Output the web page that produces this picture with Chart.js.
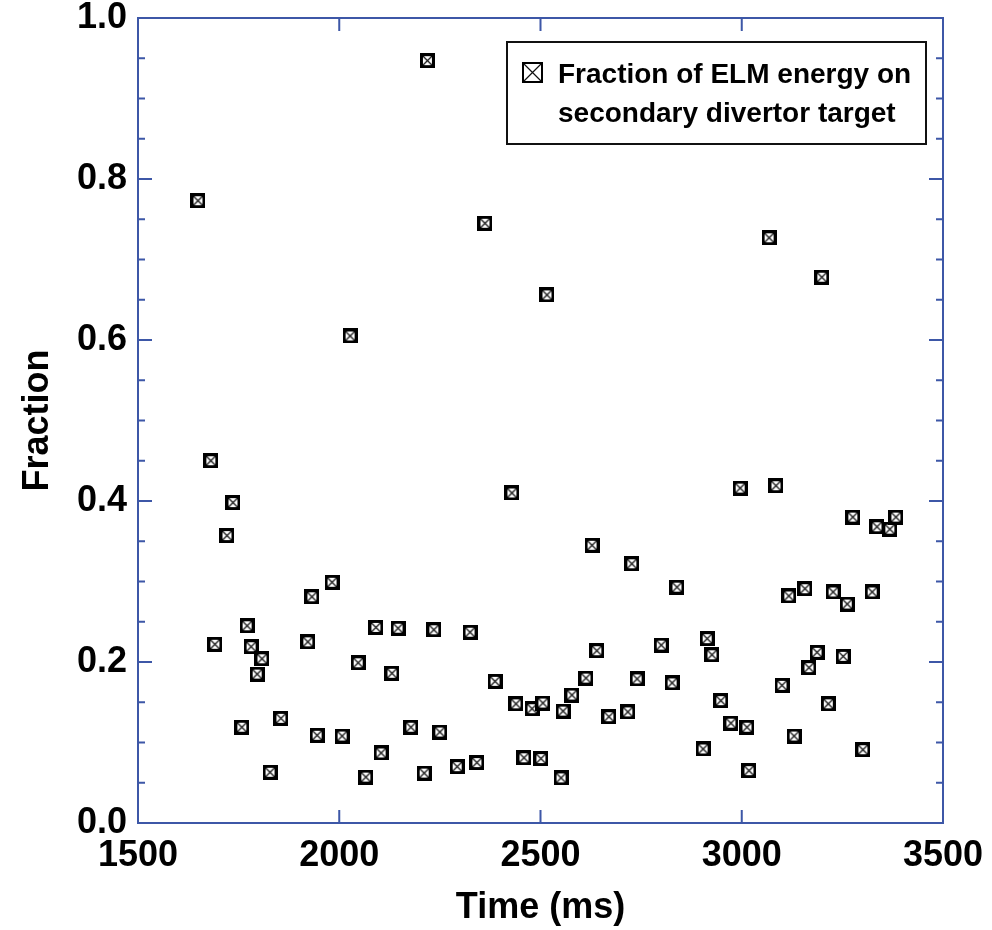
<!DOCTYPE html>
<html>
<head>
<meta charset="utf-8">
<script src="https://cdn.jsdelivr.net/npm/chart.js@4/dist/chart.umd.min.js"></script>
<style>
  html, body { margin: 0; padding: 0; background: #fff; }
  canvas { display: block; }
</style>
</head>
<body>
<canvas id="grafico" width="992" height="930"></canvas>
<script>
// Datos
const tiempos = [
  1649, 1681, 1691, 1721, 1736, 1758, 1771, 1781, 1796, 1808,
  1828, 1855, 1922, 1932, 1945, 1982, 2007, 2027, 2047, 2066,
  2091, 2104, 2131, 2146, 2178, 2211, 2219, 2235, 2250, 2293,
  2325, 2342, 2362, 2387, 2429, 2439, 2459, 2479, 2501, 2506,
  2516, 2551, 2556, 2578, 2613, 2628, 2640, 2670, 2717, 2727,
  2740, 2800, 2827, 2839, 2904, 2914, 2926, 2948, 2973, 2996,
  3013, 3018, 3068, 3085, 3100, 3117, 3130, 3157, 3167, 3187,
  3199, 3215, 3227, 3252, 3262, 3276, 3301, 3324, 3336, 3368,
  3383
];
const fracciones = [
  0.773, 0.450, 0.222, 0.357, 0.398, 0.119, 0.245, 0.219, 0.185, 0.204,
  0.063, 0.130, 0.225, 0.281, 0.109, 0.299, 0.108, 0.605, 0.199, 0.057,
  0.243, 0.087, 0.186, 0.242, 0.119, 0.062, 0.947, 0.240, 0.113, 0.070,
  0.237, 0.075, 0.745, 0.176, 0.410, 0.148, 0.081, 0.142, 0.080, 0.149,
  0.656, 0.056, 0.139, 0.159, 0.180, 0.345, 0.214, 0.132, 0.138, 0.322,
  0.179, 0.221, 0.174, 0.293, 0.092, 0.229, 0.209, 0.152, 0.124, 0.416,
  0.119, 0.065, 0.727, 0.419, 0.171, 0.282, 0.108, 0.291, 0.193, 0.212,
  0.678, 0.148, 0.287, 0.207, 0.272, 0.380, 0.091, 0.287, 0.368, 0.365,
  0.380
];
const ticksX = [1500, 2000, 2500, 3000, 3500];
const ticksY = [0, 0.2, 0.4, 0.6, 0.8, 1.0];
const etiquetaSerie = ["Fraction of ELM energy on", "secondary divertor target"];

const azul = "#3d57a7";
const fuente = "'Liberation Sans', Arial, sans-serif";

// Marca cuadrada con una X dentro
function crearMarca(tam, grosor) {
  const c = document.createElement("canvas");
  c.width = tam;
  c.height = tam;
  const g = c.getContext("2d");
  g.fillStyle = "#fff";
  g.fillRect(0, 0, tam, tam);
  g.strokeStyle = "#111";
  g.lineWidth = 1.2;
  g.beginPath();
  g.moveTo(grosor, grosor);
  g.lineTo(tam - grosor, tam - grosor);
  g.moveTo(tam - grosor, grosor);
  g.lineTo(grosor, tam - grosor);
  g.stroke();
  g.strokeStyle = "#000";
  g.lineWidth = grosor;
  g.strokeRect(grosor / 2, grosor / 2, tam - grosor, tam - grosor);
  return c;
}
const marcaPunto = crearMarca(15, 3);
const marcaLeyenda = crearMarca(21, 2);

// Marco azul y marcas hacia dentro
const marco = {
  id: "marco",
  afterDatasetsDraw(chart) {
    const { ctx, chartArea: a, scales: { x, y } } = chart;
    ctx.save();
    ctx.strokeStyle = azul;
    ctx.lineWidth = 2;
    ctx.strokeRect(a.left, a.top, a.right - a.left, a.bottom - a.top);
    ctx.beginPath();
    for (let i = 0; i <= 20; i++) {
      const py = y.getPixelForValue(i * 0.05);
      const largo = i % 4 === 0 ? 14 : 7;
      ctx.moveTo(a.left, py); ctx.lineTo(a.left + largo, py);
      ctx.moveTo(a.right, py); ctx.lineTo(a.right - largo, py);
    }
    ticksX.slice(1, -1).forEach(v => {
      const px = x.getPixelForValue(v);
      ctx.moveTo(px, a.bottom); ctx.lineTo(px, a.bottom - 13);
      ctx.moveTo(px, a.top); ctx.lineTo(px, a.top + 13);
    });
    ctx.stroke();
    ctx.restore();
  },
  afterDraw(chart) {
    const { ctx, chartArea: a } = chart;
    const caja = { x: a.right - 17 - 419, y: a.top + 24, w: 419, h: 102 };
    ctx.save();
    ctx.fillStyle = "#fff";
    ctx.fillRect(caja.x, caja.y, caja.w, caja.h);
    ctx.strokeStyle = "#111";
    ctx.lineWidth = 2;
    ctx.strokeRect(caja.x, caja.y, caja.w, caja.h);
    ctx.drawImage(marcaLeyenda, caja.x + 15, caja.y + 20);
    ctx.fillStyle = "#000";
    ctx.font = "bold 28px " + fuente;
    ctx.textBaseline = "alphabetic";
    ctx.fillText(etiquetaSerie[0], caja.x + 51, caja.y + 41);
    ctx.fillText(etiquetaSerie[1], caja.x + 51, caja.y + 80);
    ctx.restore();
  }
};

new Chart(document.getElementById("grafico"), {
  type: "scatter",
  data: {
    datasets: [{
      label: etiquetaSerie.join(" "),
      data: tiempos.map((t, i) => ({ x: t, y: fracciones[i] })),
      pointStyle: marcaPunto,
      pointRadius: 7,
      showLine: false
    }]
  },
  options: {
    responsive: false,
    animation: false,
    layout: { padding: { top: 18, right: 49, bottom: 0, left: 0 } },
    plugins: {
      legend: { display: false },
      tooltip: { enabled: false }
    },
    scales: {
      x: {
        type: "linear",
        min: 1500,
        max: 3500,
        afterBuildTicks: s => { s.ticks = ticksX.map(v => ({ value: v })); },
        afterFit: s => { s.height = 107; s.paddingLeft = 0; s.paddingRight = 0; },
        grid: { display: false, drawTicks: false },
        border: { display: false },
        ticks: {
          color: "#000",
          padding: 11,
          maxRotation: 0,
          autoSkip: false,
          font: { family: fuente, size: 36, weight: "bold", lineHeight: 1.2 },
          callback: v => String(v)
        },
        title: {
          display: true,
          text: "Time (ms)",
          color: "#000",
          padding: { top: 0, bottom: 0 },
          font: { family: fuente, size: 36, weight: "bold", lineHeight: 1.2 }
        }
      },
      y: {
        min: 0,
        max: 1,
        afterBuildTicks: s => { s.ticks = ticksY.map(v => ({ value: v })); },
        afterFit: s => { s.width = 138; s.paddingTop = 0; s.paddingBottom = 0; },
        grid: { display: false, drawTicks: false },
        border: { display: false },
        ticks: {
          color: "#000",
          padding: 11,
          font: { family: fuente, size: 36, weight: "bold", lineHeight: 1.2 },
          callback: v => v.toFixed(1)
        },
        title: {
          display: true,
          text: "Fraction",
          color: "#000",
          padding: { top: 16, bottom: 0 },
          font: { family: fuente, size: 36, weight: "bold", lineHeight: 1.2 }
        }
      }
    }
  },
  plugins: [marco]
});
</script>
</body>
</html>
